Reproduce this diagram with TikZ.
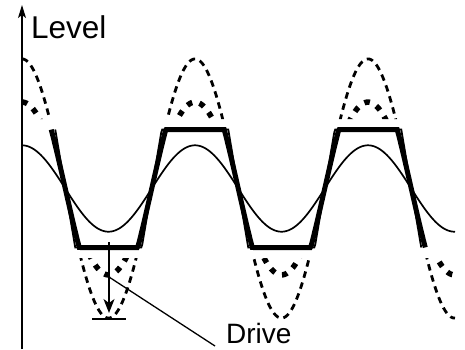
\documentclass[tikz,border=0pt]{standalone}
\usepackage{fontspec}
\setmainfont{Liberation Sans}
\usetikzlibrary{arrows.meta}
\begin{document}
\begin{tikzpicture}[x=1pt,y=-1pt,
  thinwave/.style={line width=1.7pt,black},
  clipthick/.style={line width=5pt,line join=miter,black},
  clipthin/.style={line width=1.8pt,line join=miter,black},
  bigdash/.style={line width=2.8pt,dash pattern=on 6.5pt off 5pt,black},
  bigdot/.style={line width=5.5pt,dash pattern=on 5.5pt off 7.5pt,black},
  axisline/.style={line width=1.3pt,-{Stealth[length=13pt,width=8pt,inset=3pt]}},
  drivearrow/.style={line width=1.4pt,-{Stealth[length=14pt,width=11pt,inset=4pt]}},
  thinline/.style={line width=1.3pt},
  lbl/.style={inner sep=0pt,anchor=base west}]
\useasboundingbox (0,0) rectangle (465,349);
% axis
\coordinate (axbot) at (22,349);
\coordinate (axtop) at (22,5);
\draw[axisline] (axbot) -- (axtop);
\node[lbl,font=\fontsize{31.5}{36}\selectfont] (level) at (31,38) {Level};
% thin sine
\draw[thinwave] plot[domain=22:455,samples=300,smooth] (\x,{188.5-43.2*cos(2.080925*(\x-22))});
% dashed and dotted large sines outside clip band
\begin{scope}
\clip (0,0) rectangle (465,119) (0,258) rectangle (465,349);
\draw[bigdash] plot[domain=22:455,samples=300,smooth] (\x,{188.5-129.6*cos(2.080925*(\x-22))});
\draw[bigdot] plot[domain=22:455,samples=300,smooth] (\x,{188.5-86.4*cos(2.080925*(\x-22))});
\end{scope}
% clipped waves
\draw[clipthick] plot[domain=51.25:425.25,samples=375] (\x,{188.5-max(-59,min(59,121*cos(2.080925*(\x-22))))});
\draw[clipthin] plot[domain=55.25:421.25,samples=367] (\x,{188.5-max(-59,min(59,2.835*asin(cos(2.080925*(\x-22)))))});
% drive arrow
\coordinate (dtop) at (109,242);
\coordinate (dtip) at (109,313);
\draw[drivearrow] (dtop) -- (dtip);
\coordinate (barL) at (92,319);
\coordinate (barR) at (126,319);
\draw[thinline] (barL) -- (barR);
\node[lbl,font=\fontsize{28}{32}\selectfont] (drive) at (226,343.5) {Drive};
\coordinate (lead) at (109,277);
\coordinate (leadend) at (215,346);
\draw[thinline] (lead) -- (leadend);
\end{tikzpicture}
\end{document}
